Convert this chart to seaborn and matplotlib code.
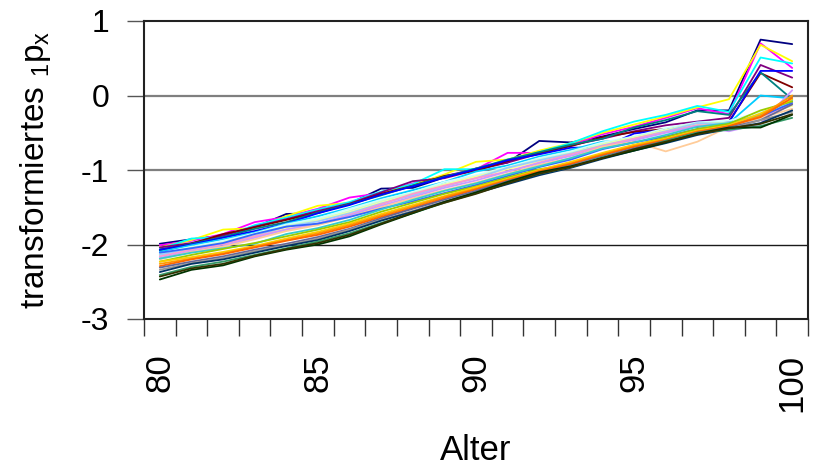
import matplotlib
matplotlib.use("Agg")
import matplotlib.pyplot as plt
import seaborn as sns
import pandas as pd
from matplotlib.ticker import FixedLocator

# Altersstufen
alter = list(range(80, 101))

# transformierte einjährige Überlebenswahrscheinlichkeiten je Beobachtungsjahr (Reihen 1-28)
reihe_01 = [-1.99, -1.93, -1.88, -1.77, -1.59, -1.58, -1.45, -1.25, -1.24, -1.10, -0.98, -0.90, -0.61, -0.63, -0.55, -0.45, -0.36, -0.20, -0.20, 0.75, 0.69]
reihe_02 = [-2.01, -1.95, -1.86, -1.70, -1.63, -1.52, -1.37, -1.31, -1.18, -1.08, -0.99, -0.77, -0.77, -0.66, -0.52, -0.42, -0.30, -0.17, -0.25, 0.70, 0.37]
reihe_03 = [-2.04, -1.94, -1.80, -1.78, -1.62, -1.48, -1.44, -1.30, -1.20, -1.06, -0.89, -0.86, -0.74, -0.64, -0.50, -0.39, -0.28, -0.16, -0.05, 0.68, 0.46]
reihe_04 = [-2.06, -1.92, -1.90, -1.74, -1.64, -1.53, -1.43, -1.29, -1.19, -0.99, -0.99, -0.86, -0.76, -0.64, -0.48, -0.35, -0.26, -0.14, -0.22, 0.51, 0.43]
reihe_05 = [-2.04, -1.98, -1.88, -1.76, -1.66, -1.55, -1.45, -1.30, -1.15, -1.11, -1.00, -0.90, -0.78, -0.67, -0.58, -0.48, -0.40, -0.35, -0.30, 0.41, 0.24]
reihe_06 = [-2.07, -1.99, -1.86, -1.77, -1.67, -1.57, -1.46, -1.32, -1.21, -1.08, -1.01, -0.88, -0.77, -0.68, -0.56, -0.49, -0.45, -0.42, -0.35, 0.30, 0.11]
reihe_07 = [-2.08, -1.99, -1.90, -1.79, -1.70, -1.57, -1.46, -1.34, -1.21, -1.09, -0.98, -0.86, -0.76, -0.66, -0.58, -0.43, -0.33, -0.21, -0.26, 0.31, -0.05]
reihe_08 = [-2.07, -2.00, -1.91, -1.82, -1.72, -1.58, -1.47, -1.33, -1.22, -1.10, -0.99, -0.87, -0.79, -0.70, -0.70, -0.51, -0.46, -0.36, -0.36, 0.33, 0.33]
reihe_09 = [-2.10, -2.01, -1.93, -1.84, -1.72, -1.62, -1.51, -1.38, -1.27, -1.16, -1.02, -0.94, -0.82, -0.73, -0.62, -0.60, -0.48, -0.38, -0.37, 0.00, -0.04]
reihe_10 = [-2.12, -2.03, -1.95, -1.85, -1.73, -1.65, -1.52, -1.40, -1.30, -1.16, -1.07, -0.96, -0.84, -0.75, -0.63, -0.55, -0.44, -0.36, -0.34, -0.22, -0.10]
reihe_11 = [-2.13, -2.04, -1.97, -1.86, -1.75, -1.67, -1.55, -1.42, -1.31, -1.19, -1.09, -0.97, -0.86, -0.77, -0.65, -0.56, -0.46, -0.37, -0.37, -0.25, -0.12]
reihe_12 = [-2.15, -2.06, -1.98, -1.88, -1.78, -1.68, -1.57, -1.44, -1.33, -1.20, -1.09, -0.99, -0.88, -0.78, -0.66, -0.57, -0.47, -0.38, -0.38, -0.26, -0.14]
reihe_13 = [-2.14, -2.05, -1.99, -1.89, -1.76, -1.69, -1.58, -1.45, -1.34, -1.22, -1.11, -0.97, -0.87, -0.78, -0.67, -0.58, -0.48, -0.37, -0.39, -0.30, -0.08]
reihe_14 = [-2.16, -2.07, -2.00, -1.89, -1.80, -1.72, -1.60, -1.46, -1.32, -1.21, -1.11, -1.02, -0.90, -0.79, -0.68, -0.58, -0.49, -0.40, -0.40, -0.29, -0.11]
reihe_15 = [-2.18, -2.09, -2.02, -1.91, -1.80, -1.72, -1.61, -1.48, -1.36, -1.24, -1.14, -1.02, -0.91, -0.81, -0.70, -0.60, -0.50, -0.41, -0.48, -0.38, 0.07]
reihe_16 = [-2.20, -2.10, -2.03, -1.93, -1.82, -1.74, -1.63, -1.50, -1.38, -1.27, -1.17, -1.05, -0.93, -0.84, -0.69, -0.62, -0.75, -0.62, -0.42, -0.30, -0.18]
reihe_17 = [-2.11, -2.05, -1.98, -1.86, -1.76, -1.72, -1.63, -1.52, -1.42, -1.31, -1.20, -1.08, -0.96, -0.86, -0.72, -0.63, -0.55, -0.45, -0.40, -0.28, -0.10]
reihe_18 = [-2.19, -2.11, -2.05, -1.99, -1.86, -1.78, -1.67, -1.53, -1.40, -1.28, -1.18, -1.06, -0.95, -0.84, -0.71, -0.63, -0.53, -0.42, -0.37, -0.26, -0.06]
reihe_19 = [-2.23, -2.14, -2.06, -1.98, -1.89, -1.80, -1.70, -1.56, -1.44, -1.32, -1.22, -1.10, -0.99, -0.92, -0.78, -0.67, -0.56, -0.45, -0.38, -0.20, -0.08]
reihe_20 = [-2.23, -2.17, -2.10, -2.02, -1.92, -1.83, -1.72, -1.59, -1.47, -1.35, -1.23, -1.12, -1.00, -0.89, -0.77, -0.66, -0.58, -0.47, -0.40, -0.24, -0.05]
reihe_21 = [-2.26, -2.19, -2.12, -2.03, -1.94, -1.85, -1.74, -1.61, -1.49, -1.36, -1.25, -1.13, -1.01, -0.91, -0.79, -0.68, -0.59, -0.48, -0.42, -0.27, 0.00]
reihe_22 = [-2.29, -2.20, -2.13, -2.04, -1.95, -1.87, -1.76, -1.63, -1.51, -1.38, -1.26, -1.14, -1.02, -0.92, -0.80, -0.69, -0.60, -0.49, -0.41, -0.29, -0.03]
reihe_23 = [-2.31, -2.23, -2.16, -2.07, -1.99, -1.90, -1.79, -1.65, -1.52, -1.40, -1.28, -1.15, -1.04, -0.94, -0.82, -0.71, -0.61, -0.50, -0.43, -0.33, -0.12]
reihe_24 = [-2.34, -2.25, -2.18, -2.09, -2.01, -1.92, -1.80, -1.67, -1.55, -1.42, -1.30, -1.18, -1.05, -0.95, -0.83, -0.73, -0.63, -0.51, -0.45, -0.33, -0.22]
reihe_25 = [-2.37, -2.26, -2.20, -2.11, -2.02, -1.94, -1.82, -1.68, -1.56, -1.43, -1.31, -1.19, -1.07, -0.97, -0.85, -0.74, -0.64, -0.53, -0.45, -0.37, -0.20]
reihe_26 = [-2.41, -2.30, -2.23, -2.14, -2.05, -1.96, -1.85, -1.71, -1.58, -1.44, -1.31, -1.17, -1.05, -0.96, -0.83, -0.73, -0.61, -0.50, -0.46, -0.41, -0.30]
reihe_27 = [-2.47, -2.34, -2.28, -2.16, -2.07, -2.00, -1.89, -1.73, -1.58, -1.43, -1.30, -1.16, -1.03, -0.95, -0.84, -0.74, -0.63, -0.51, -0.43, -0.43, -0.26]
reihe_28 = [-2.43, -2.32, -2.26, -2.15, -2.06, -1.98, -1.87, -1.72, -1.57, -1.44, -1.32, -1.18, -1.05, -0.96, -0.84, -0.72, -0.62, -0.52, -0.44, -0.38, -0.25]

reihen = [reihe_01, reihe_02, reihe_03, reihe_04, reihe_05, reihe_06, reihe_07,
          reihe_08, reihe_09, reihe_10, reihe_11, reihe_12, reihe_13, reihe_14,
          reihe_15, reihe_16, reihe_17, reihe_18, reihe_19, reihe_20, reihe_21,
          reihe_22, reihe_23, reihe_24, reihe_25, reihe_26, reihe_27, reihe_28]

# klassische Tabellenkalkulations-Linienfarben
farben = ["#000080", "#FF00FF", "#FFFF00", "#00FFFF", "#800080", "#800000",
          "#008080", "#0000FF", "#00CCFF", "#CCFFFF", "#CCFFCC", "#FFFF99",
          "#99CCFF", "#FF99CC", "#CC99FF", "#FFCC99", "#3366FF", "#33CCCC",
          "#99CC00", "#FFCC00", "#FF9900", "#FF6600", "#666699", "#969696",
          "#003366", "#339966", "#003300", "#333300"]

y_ticks = [-3, -2, -1, 0, 1]
x_ticks = [80, 85, 90, 95, 100]

rows = []
for i, werte in enumerate(reihen):
    for a, v in zip(alter, werte):
        rows.append({"Reihe": f"R{i + 1:02d}", "Alter": a, "Wert": v})
df = pd.DataFrame(rows)

sns.set_theme(style="white")
plt.rcParams["font.family"] = ["Liberation Sans", "DejaVu Sans"]
plt.rcParams["mathtext.fontset"] = "custom"
plt.rcParams["mathtext.rm"] = "Liberation Sans"
plt.rcParams["mathtext.it"] = "Liberation Sans"
plt.rcParams["text.color"] = "black"
plt.rcParams["axes.labelcolor"] = "black"
plt.rcParams["xtick.color"] = "black"
plt.rcParams["ytick.color"] = "black"

fig = plt.figure(figsize=(8.13, 4.71), dpi=100)
ax = fig.add_axes([144 / 813, 1 - 319 / 471, 664 / 813, 298 / 471])

# Gitterlinien
for g in [-2, -1, 0]:
    ax.axhline(g, color="#1a1a1a" if g == -2 else "#7f7f7f",
               lw=1.0 if g == -2 else 1.6, zorder=0)

sns.lineplot(data=df, x="Alter", y="Wert", hue="Reihe", palette=farben,
             estimator=None, sort=False, legend=False, lw=1.3, ax=ax)

ax.set_xlim(79.5, 100.5)
ax.set_ylim(-3, 1)

ax.set_yticks(y_ticks)
ax.set_yticklabels([str(t) for t in y_ticks], fontsize=23)
ax.tick_params(axis="y", which="major", direction="out", length=12,
               width=1.0, color="#555555", labelcolor="black", pad=13, left=True)

ax.set_xticks(x_ticks)
ax.set_xticklabels([str(t) for t in x_ticks], fontsize=25, rotation=90)
ax.xaxis.set_minor_locator(FixedLocator([79.5 + k for k in range(22)]))
ax.tick_params(axis="x", which="major", length=0, pad=25, bottom=True,
               labelcolor="black")
ax.tick_params(axis="x", which="minor", direction="out", length=12,
               width=1.0, color="#333333", bottom=True)

for s in ax.spines.values():
    s.set_visible(True)
    s.set_color("#222222")
    s.set_linewidth(1.5)

ax.set_xlabel("Alter", fontsize=25, labelpad=16)
ax.set_ylabel(r"transformiertes $_{\mathrm{1}}\mathrm{p}_{\mathrm{x}}$", fontsize=24, labelpad=20)
ax.grid(False)

fig.savefig("out.png", dpi=100)
